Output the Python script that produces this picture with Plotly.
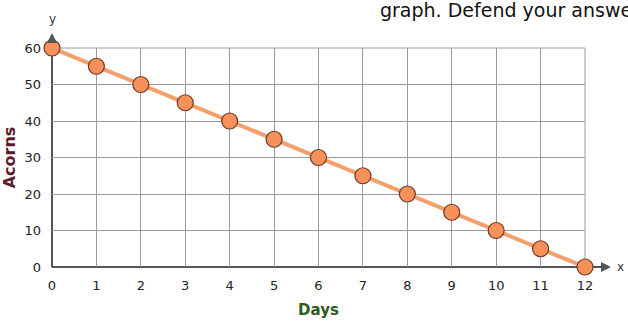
import plotly.graph_objects as go

days = [0, 1, 2, 3, 4, 5, 6, 7, 8, 9, 10, 11, 12]
acorns = [60, 55, 50, 45, 40, 35, 30, 25, 20, 15, 10, 5, 0]
x_ticks = list(range(0, 13))
y_ticks = [0, 10, 20, 30, 40, 50, 60]

FONT = "'DejaVu Sans', sans-serif"
GRID = "#9a9a9a"
AXIS = "#555555"

# plot area in pixels
L, R, T, B = 52, 585, 48, 267
PW, PH = R - L, B - T


def px(xp):
    return (xp - L) / PW


def py(yp):
    return (B - yp) / PH


fig = go.Figure()
fig.add_trace(go.Scatter(
    x=days, y=acorns, mode="lines+markers",
    line=dict(color="#f5a06c", width=4),
    marker=dict(size=16, color="#f8905a", line=dict(color="#6a3a28", width=1.2)),
    cliponaxis=False, showlegend=False,
))

fig.update_layout(
    width=628, height=325,
    margin=dict(l=L, r=628 - R, t=T, b=325 - B),
    paper_bgcolor="white", plot_bgcolor="white",
    font=dict(family=FONT, size=13, color="#222"),
    xaxis=dict(range=[0, 12], tickvals=x_ticks, showgrid=True, gridcolor=GRID, gridwidth=1,
               zeroline=False, showline=False, ticks="", ticklabelstandoff=9, automargin=False,
               tickfont=dict(size=13, color="#222"),
               title=dict(text="<b>Days</b>", font=dict(size=15, color="#2f5a1c"), standoff=12)),
    yaxis=dict(range=[0, 60], tickvals=y_ticks, showgrid=True, gridcolor=GRID, gridwidth=1,
               zeroline=False, showline=False, ticks="", ticklabelstandoff=10, automargin=False,
               tickfont=dict(size=13, color="#222"),
               title=dict(text="<b>Acorns</b>", font=dict(size=16, color="#5e1a2c"), standoff=4)),
)

# right and top closing gridlines
fig.add_shape(type="line", xref="paper", yref="paper", x0=1, x1=1, y0=0, y1=1, line=dict(color=GRID, width=1), layer="below")
fig.add_shape(type="line", xref="paper", yref="paper", x0=0, x1=1, y0=1, y1=1, line=dict(color=GRID, width=1), layer="below")

# axis lines (below the markers)
fig.add_shape(type="line", xref="paper", yref="paper", x0=0, x1=px(604), y0=0, y1=0, line=dict(color=AXIS, width=2), layer="below")
fig.add_shape(type="line", xref="paper", yref="paper", x0=0, x1=0, y0=0, y1=py(40), line=dict(color=AXIS, width=2), layer="below")

# arrow heads
fig.add_annotation(x=px(611), y=0, ax=-10, ay=0, xref="paper", yref="paper",
                   showarrow=True, arrowhead=2, arrowsize=1, arrowwidth=2, arrowcolor=AXIS, text="")
fig.add_annotation(x=0, y=py(33), ax=0, ay=10, xref="paper", yref="paper",
                   showarrow=True, arrowhead=2, arrowsize=1, arrowwidth=2, arrowcolor=AXIS, text="")
fig.add_annotation(x=px(620), y=0, xref="paper", yref="paper", text="x", showarrow=False,
                   font=dict(size=12, color="#333"), xanchor="center", yanchor="middle")
fig.add_annotation(x=0, y=py(19), xref="paper", yref="paper", text="y", showarrow=False,
                   font=dict(size=12, color="#333"), xanchor="center", yanchor="middle")

fig.add_annotation(x=px(378), y=py(10), xref="paper", yref="paper",
                   text="graph. Defend your answer.",
                   showarrow=False, font=dict(size=19, color="#111", family=FONT),
                   xanchor="left", yanchor="middle")

fig.write_html("out.html")
